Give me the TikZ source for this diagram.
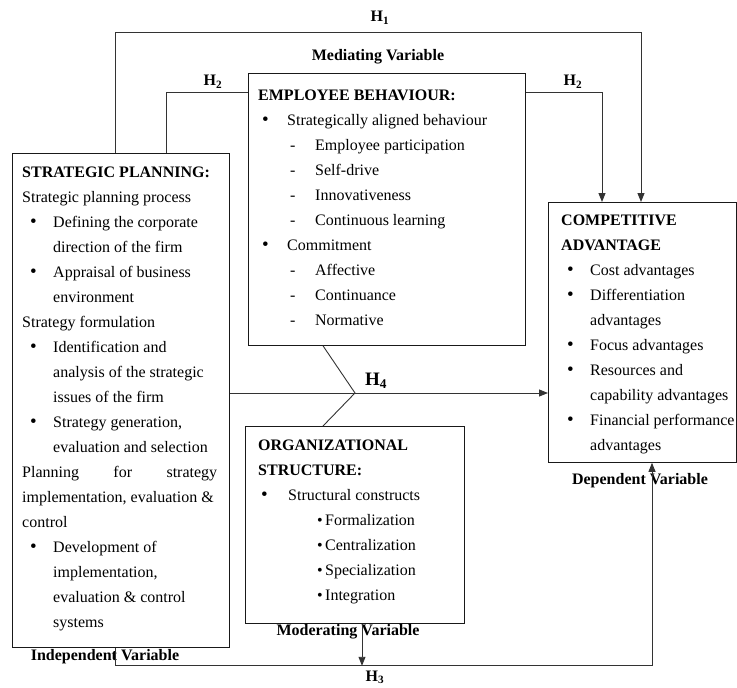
\documentclass[tikz,border=0pt]{standalone}
\usepackage{fontspec}
\setmainfont{Liberation Serif}
\usetikzlibrary{arrows.meta}
\newcommand{\itm}[3]{\hspace*{#1}\makebox[#2][l]{#3}}
\newcommand{\bull}{\raisebox{-0.4pt}{\fontsize{19}{19}\selectfont\textbullet}}
\begin{document}
\begin{tikzpicture}[x=1pt, y=-1pt, >={Triangle[length=9pt,width=7pt]},
  box/.style={draw=black!90, line width=0.8pt, anchor=north west, inner sep=0pt},
  txt/.style={anchor=north west, inner sep=0pt, align=left, font=\fontsize{16}{25}\selectfont},
  lab/.style={inner sep=0pt, font=\bfseries\fontsize{16}{19}\selectfont},
  link/.style={draw=black!80, line width=0.9pt}]
  \useasboundingbox (0,0) rectangle (737,688);
  \node[box, minimum width=217pt, minimum height=494pt] (sp) at (12,153) {}; % independent
  \node[box, minimum width=277pt, minimum height=272pt] (eb) at (248,73) {}; % mediating
  \node[box, minimum width=219pt, minimum height=197pt] (os) at (245,426) {}; % moderating
  \node[box, minimum width=188pt, minimum height=260pt] (ca) at (548,202) {}; % dependent
  \node[txt] (sptxt) at (22,159.5) {\strut\textbf{STRATEGIC PLANNING:}\\
    Strategic planning process\\
    \itm{8pt}{23pt}{\bull}Defining the corporate\\
    \hspace*{31pt}direction of the firm\\
    \itm{8pt}{23pt}{\bull}Appraisal of business\\
    \hspace*{31pt}environment\\
    Strategy formulation\\
    \itm{8pt}{23pt}{\bull}Identification and\\
    \hspace*{31pt}analysis of the strategic\\
    \hspace*{31pt}issues of the firm\\
    \itm{8pt}{23pt}{\bull}Strategy generation,\\
    \hspace*{31pt}evaluation and selection\\
    \makebox[195pt][s]{Planning\hfill for\hfill strategy}\\
    implementation, evaluation \&\\
    control\\
    \itm{8pt}{23pt}{\bull}Development of\\
    \hspace*{31pt}implementation,\\
    \hspace*{31pt}evaluation \& control\\
    \hspace*{31pt}systems};
  \node[txt] (ebtxt) at (258,82.5) {\strut\textbf{EMPLOYEE BEHAVIOUR:}\\
    \itm{4pt}{25pt}{\bull}Strategically aligned behaviour\\
    \itm{32pt}{25pt}{-}Employee participation\\
    \itm{32pt}{25pt}{-}Self-drive\\
    \itm{32pt}{25pt}{-}Innovativeness\\
    \itm{32pt}{25pt}{-}Continuous learning\\
    \itm{4pt}{25pt}{\bull}Commitment\\
    \itm{32pt}{25pt}{-}Affective\\
    \itm{32pt}{25pt}{-}Continuance\\
    \itm{32pt}{25pt}{-}Normative};
  \node[txt] (ostxt) at (258,432.5) {\strut\textbf{ORGANIZATIONAL}\\
    \textbf{STRUCTURE:}\\
    \itm{3pt}{27pt}{\bull}Structural constructs\\
    \itm{59pt}{8pt}{\textbullet}Formalization\\
    \itm{59pt}{8pt}{\textbullet}Centralization\\
    \itm{59pt}{8pt}{\textbullet}Specialization\\
    \itm{59pt}{8pt}{\textbullet}Integration};
  \node[txt] (catxt) at (561,207.5) {\strut\textbf{COMPETITIVE}\\
    \textbf{ADVANTAGE}\\
    \itm{6pt}{23pt}{\bull}Cost advantages\\
    \itm{6pt}{23pt}{\bull}Differentiation\\
    \hspace*{29pt}advantages\\
    \itm{6pt}{23pt}{\bull}Focus advantages\\
    \itm{6pt}{23pt}{\bull}Resources and\\
    \hspace*{29pt}capability advantages\\
    \itm{6pt}{23pt}{\bull}Financial performance\\
    \hspace*{29pt}advantages};
  \node[lab] (h1) at (380,18) {H\textsubscript{1}};
  \node[lab] (medv) at (378,57) {Mediating Variable};
  \node[lab] (h2a) at (213,82) {H\textsubscript{2}};
  \node[lab] (h2b) at (573,82) {H\textsubscript{2}};
  \node[lab, font=\bfseries\fontsize{19}{22}\selectfont] (h4) at (376,381) {H\textsubscript{4}};
  \node[lab] (modv) at (348,632) {Moderating Variable};
  \node[lab] (indv) at (105,657) {Independent Variable};
  \node[lab] (depv) at (640,481) {Dependent Variable};
  \node[lab] (h3) at (375,677.5) {H\textsubscript{3}};
  \coordinate (jn) at (355,393); % H4 junction
  \draw[link, ->] ([xshift=103pt]sp.north west) -- ++(0,-121) -| ([xshift=93pt]ca.north west); % H1
  \draw[link] ([xshift=154pt]sp.north west) |- ([yshift=-19pt]eb.north west); % H2
  \draw[link, ->] ([yshift=-19pt]eb.north east) -| ([xshift=54pt]ca.north west); % H2
  \draw[link, ->] (sp.east |- jn) -- (ca.west |- jn); % H4
  \draw[link] ([xshift=75pt]eb.south west) -- (jn) -- ([xshift=78pt]os.north west);
  \draw[link, ->] ([xshift=117pt]os.south west) -- ++(0,42); % moderating
  \draw[link, ->] ([xshift=103pt]sp.south west) -- ++(0,18) -| ([xshift=104pt]ca.south west); % H3
\end{tikzpicture}
\end{document}
